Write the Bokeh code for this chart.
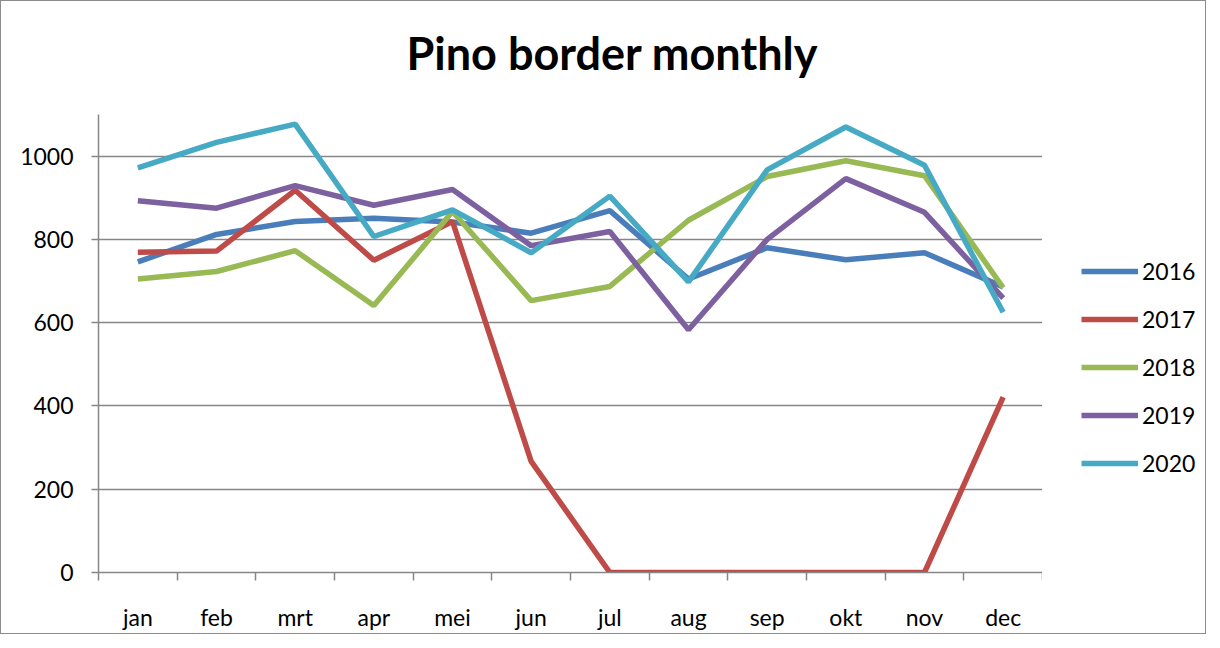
from bokeh.plotting import figure
from bokeh.layouts import row
from bokeh.models import FixedTicker, Legend, LegendItem, Range1d, Title
from bokeh.embed import file_html
from bokeh.resources import INLINE

months = ["jan", "feb", "mrt", "apr", "mei", "jun", "jul", "aug", "sep", "okt", "nov", "dec"]
years = ["2016", "2017", "2018", "2019", "2020"]
v2016 = [746, 812, 843, 851, 842, 815, 869, 705, 780, 751, 768, 686]
v2017 = [769, 772, 918, 750, 843, 267, 0, 0, 0, 0, 0, 421]
v2018 = [705, 723, 773, 641, 867, 653, 687, 846, 951, 989, 953, 684]
v2019 = [893, 875, 929, 882, 920, 785, 819, 583, 800, 946, 865, 659]
v2020 = [972, 1033, 1077, 807, 871, 768, 904, 698, 967, 1070, 978, 625]
series = [v2016, v2017, v2018, v2019, v2020]
colors = ["#4A7EBB", "#BE4B48", "#98B954", "#7D60A0", "#46AAC5"]
y_ticks = [0, 200, 400, 600, 800, 1000]

FONT = "Lato"
xs = [i + 0.5 for i in range(len(months))]

p = figure(width=1041, height=632, output_backend="svg", toolbar_location=None,
           title=None, title_location=None,
           x_range=Range1d(0, 12), y_range=Range1d(0, 1100),
           min_border_left=97, min_border_right=0, min_border_top=113, min_border_bottom=49)
spacer = Title(text=" ", text_font=FONT, text_font_size="10px", standoff=21)
main_title = Title(text="Pino border monthly", text_font=FONT, text_font_size="45px",
                   text_font_style="bold", text_color="black", align="left",
                   offset=308, standoff=0)
p.add_layout(spacer, "above")
p.add_layout(main_title, "above")
p.outline_line_color = None
p.background_fill_color = "white"
p.border_fill_color = "white"

# axes
p.xaxis.ticker = FixedTicker(ticks=xs, minor_ticks=list(range(13)))
p.xaxis.major_label_overrides = {x: m for x, m in zip(xs, months)}
p.xaxis.major_tick_out = 0
p.xaxis.major_tick_in = 0
p.xaxis.minor_tick_out = 8
p.xaxis.minor_tick_in = 0
p.xaxis.minor_tick_line_color = "#868686"
p.xaxis.minor_tick_line_width = 1.5
p.xaxis.axis_line_color = "#868686"
p.xaxis.axis_line_width = 1.5
p.xaxis.major_label_text_font = FONT
p.xaxis.major_label_text_font_size = "23px"
p.xaxis.major_label_text_color = "black"
p.xaxis.major_label_standoff = 22

p.yaxis.ticker = FixedTicker(ticks=y_ticks)
p.yaxis.minor_tick_line_color = None
p.yaxis.major_tick_out = 7
p.yaxis.major_tick_in = 0
p.yaxis.major_tick_line_color = "#868686"
p.yaxis.major_tick_line_width = 1.5
p.yaxis.axis_line_color = "#868686"
p.yaxis.axis_line_width = 1.5
p.yaxis.major_label_text_font = FONT
p.yaxis.major_label_text_font_size = "23px"
p.yaxis.major_label_text_color = "black"
p.yaxis.major_label_standoff = 18

p.xgrid.grid_line_color = None
p.ygrid.ticker = FixedTicker(ticks=y_ticks[1:])
p.ygrid.grid_line_color = "#868686"
p.ygrid.grid_line_width = 1.5

for vals, c in zip(series, colors):
    p.line(xs, vals, line_color=c, line_width=5.5)

# legend panel (separate figure to the right; its copies of the lines lie outside its view)
q = figure(width=163, height=632, output_backend="svg", toolbar_location=None,
           x_range=Range1d(-100, -99), y_range=Range1d(-100, -99),
           x_axis_type=None, y_axis_type=None,
           min_border_left=0, min_border_right=0, min_border_top=0, min_border_bottom=0)
q.grid.grid_line_color = None
q.outline_line_color = None
q.background_fill_color = "white"
q.border_fill_color = "white"
items = []
for name, vals, c in zip(years, series, colors):
    r = q.line(xs, vals, line_color=c, line_width=5.5)
    items.append(LegendItem(label=name, renderers=[r]))
legend = Legend(items=items, location=(39, 95), orientation="vertical",
                label_text_font=FONT, label_text_font_size="23px", label_text_color="black",
                glyph_width=57, glyph_height=20, label_height=20, label_standoff=4,
                spacing=20, padding=0, margin=0,
                border_line_color=None, background_fill_alpha=0)
q.add_layout(legend, "center")

layout = row(p, q, spacing=0, styles={"border": "1px solid #8c8c8c"})
open("out.html", "w").write(file_html(layout, INLINE))
